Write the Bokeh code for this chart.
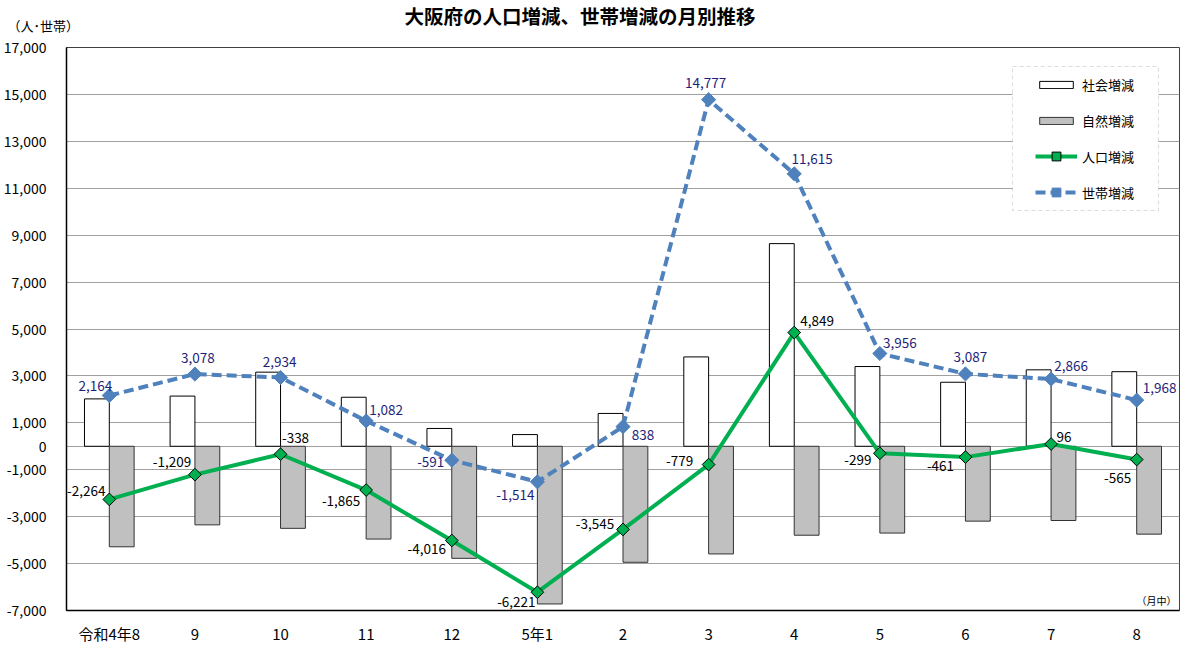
import math
from bokeh.plotting import figure
from bokeh.models import (ColumnDataSource, FactorRange, FixedTicker, LabelSet, Label, Title,
                          Legend, LegendItem, BoxAnnotation, NumeralTickFormatter)
from bokeh.transform import dodge
from bokeh.core.properties import value
from bokeh.embed import file_html
from bokeh.resources import INLINE

# ---- data ----
months = ["令和4年8", "9", "10", "11", "12", "5年1", "2", "3", "4", "5", "6", "7", "8"]
social = [2020, 2140, 3160, 2090, 760, 500, 1400, 3810, 8640, 3400, 2730, 3260, 3180]
natural = [-4284, -3349, -3498, -3955, -4776, -6721, -4945, -4589, -3791, -3699, -3191, -3164, -3745]
population = [-2264, -1209, -338, -1865, -4016, -6221, -3545, -779, 4849, -299, -461, 96, -565]
households = [2164, 3078, 2934, 1082, -591, -1514, 838, 14777, 11615, 3956, 3087, 2866, 1968]
y_ticks = [-7000, -5000, -3000, -1000, 0, 1000, 3000, 5000, 7000, 9000, 11000, 13000, 15000, 17000]

# label placement (pixels, screen) - layout only
pop_dx = [-23, -23, 15, -25, -25, -21, -28, -29, 23, -22, -25, 13, -19]
pop_dy = [8, 13, 16, -11, -8, -10, 5, 4, 12, -7, -9, 7, -18]
hh_dx = [-14, 3, -1, 20, -21, -22, 20, -3, 18, 20, 5, 20, 23]
hh_dy = [10, 16, 15, 11, -2, -13, -8, 17, 15, 10, 17, 13, 12]

FONT = "Noto Sans CJK JP"
NUMFONT = "'Liberation Sans Narrow', 'Noto Sans CJK JP'"

src = ColumnDataSource(dict(
    m=months, social=social, natural=natural, pop=population, hh=households,
    pop_t=[f"{v:,}" for v in population], hh_t=[f"{v:,}" for v in households],
    pdx=pop_dx, pdy=pop_dy, hdx=hh_dx, hdy=hh_dy,
))

FW, FH = 1113, 563
p = figure(x_range=FactorRange(*months), y_range=(-7000, 17000), title=None,
           frame_width=FW, frame_height=FH,
           min_border_left=59, min_border_right=4, min_border_top=47, min_border_bottom=27,
           output_backend="svg", toolbar_location=None, background_fill_color="white")

p.outline_line_color = "#404040"
p.outline_line_width = 1
p.xgrid.grid_line_color = None
p.ygrid.ticker = FixedTicker(ticks=y_ticks)
p.ygrid.grid_line_color = "#A0A0A0"
p.ygrid.grid_line_width = 1

p.yaxis.ticker = FixedTicker(ticks=y_ticks)
p.yaxis.formatter = NumeralTickFormatter(format="0,0")
p.yaxis.major_label_text_font = FONT
p.yaxis.major_label_text_font_size = "14px"
p.yaxis.major_label_text_color = "#000000"
p.yaxis.major_tick_line_color = None
p.yaxis.minor_tick_line_color = None
p.yaxis.axis_line_color = "#000000"
p.yaxis.axis_line_width = 1.5
p.yaxis.major_label_standoff = 14

p.xaxis.major_label_text_font = NUMFONT
p.xaxis.major_label_text_font_size = "15px"
p.xaxis.major_label_text_color = "#000000"
p.xaxis.major_tick_line_color = None
p.xaxis.axis_line_color = "#000000"
p.xaxis.axis_line_width = 1.5
p.xaxis.major_label_standoff = 6

W = 0.29
r_soc = p.vbar(x=dodge("m", -W / 2, range=p.x_range), top="social", bottom=0, width=W, source=src,
               fill_color="white", line_color="#000000", line_width=1)
r_nat = p.vbar(x=dodge("m", W / 2, range=p.x_range), top=0, bottom="natural", width=W, source=src,
               fill_color="#C0C0C0", line_color="#333333", line_width=1)

r_hl = p.line(x="m", y="hh", source=src, line_color="#4F81BD", line_width=4, line_dash="10 5")
r_hs = p.scatter(x="m", y="hh", source=src, marker="square", size=10, angle=math.pi / 4,
                 fill_color="#4F81BD", line_color="#4F81BD")
r_pl = p.line(x="m", y="pop", source=src, line_color="#00B050", line_width=4)
r_ps = p.scatter(x="m", y="pop", source=src, marker="square", size=9, angle=math.pi / 4,
                 fill_color="#00B050", line_color="#000000", line_width=1)

p.add_layout(LabelSet(x="m", y="pop", text="pop_t", source=src, x_offset="pdx", y_offset="pdy",
                      text_align="center", text_baseline="middle", text_font=value(FONT),
                      text_font_size="13.5px", text_color="#000000"))
p.add_layout(LabelSet(x="m", y="hh", text="hh_t", source=src, x_offset="hdx", y_offset="hdy",
                      text_align="center", text_baseline="middle", text_font=value(FONT),
                      text_font_size="13.5px", text_color="#1F1F7A"))

# legend frame
p.add_layout(BoxAnnotation(left=11.05, right=12.755, top=16190, bottom=10051,
                           fill_color="white", fill_alpha=1, line_color="#8C8C8C",
                           line_dash="4 3", line_width=1))
leg_common = dict(border_line_color=None, background_fill_alpha=0, padding=0, margin=0,
                  glyph_width=42, label_standoff=5, label_text_font=FONT,
                  label_text_font_size="13px", label_text_color="#000000")
legend_bars = Legend(items=[
    LegendItem(label="社会増減", renderers=[r_soc]),
    LegendItem(label="自然増減", renderers=[r_nat]),
], location=(969, 480), spacing=17, glyph_height=9, label_height=9, **leg_common)
legend_lines = Legend(items=[
    LegendItem(label="人口増減", renderers=[r_pl, r_ps]),
    LegendItem(label="世帯増減", renderers=[r_hl, r_hs]),
], location=(969, 407), spacing=14, glyph_height=22, label_height=22, **leg_common)
p.add_layout(legend_bars, "center")
p.add_layout(legend_lines, "center")

# titles / unit notes
p.add_layout(Title(text="（人･世帯）", align="left", offset=-59, standoff=26,
                   text_font=FONT, text_font_size="13px", text_font_style="normal",
                   text_color="#000000"), "above")
p.add_layout(Title(text="大阪府の人口増減、世帯増減の月別推移", align="left", offset=338, standoff=-58,
                   text_font=FONT, text_font_size="19.5px", text_font_style="bold",
                   text_color="#000000"), "above")

# "(月中)" note at the lower right corner of the plot area
p.add_layout(Label(x=FW - 3, y=3, x_units="screen", y_units="screen", text="（月中）",
                   text_align="right", text_baseline="bottom", text_font=FONT,
                   text_font_size="10px", text_color="#000000"))

open("out.html", "w").write(file_html(p, INLINE))
